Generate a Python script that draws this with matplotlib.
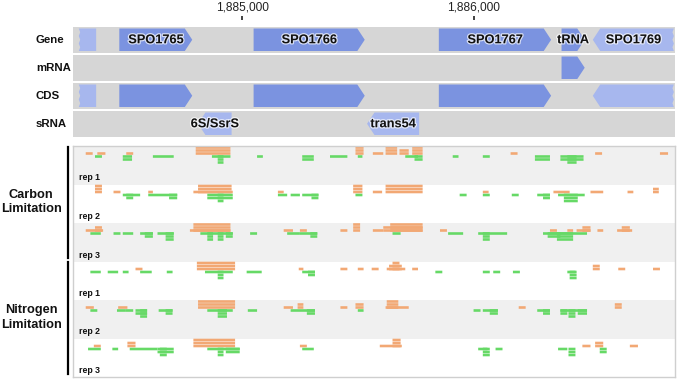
import matplotlib
matplotlib.use("Agg")
import matplotlib.pyplot as plt
from matplotlib.patches import Polygon, Rectangle
import matplotlib.patheffects as pe

plt.rcParams['font.family'] = ['Liberation Sans', 'DejaVu Sans']

# ---------------- data ----------------
view_start, view_end = 1884270, 1886870
tick_positions = [1885000, 1886000]
tick_labels = ["1,885,000", "1,886,000"]

track_names = ["Gene", "mRNA", "CDS", "sRNA"]

gene_names = ["", "SPO1765", "SPO1766", "SPO1767", "tRNA", "SPO1769"]
gene_starts = [1884295, 1884470, 1885050, 1885850, 1886380, 1886515]
gene_ends = [1884370, 1884785, 1885530, 1886335, 1886480, 1886865]
gene_strands = [-1, 1, 1, 1, 1, -1]
gene_trunc = ["left", "", "", "", "", "right"]

mrna_starts = [1886380]
mrna_ends = [1886480]
mrna_strands = [1]

cds_starts = [1884295, 1884470, 1885050, 1885850, 1886515]
cds_ends = [1884370, 1884785, 1885530, 1886335, 1886865]
cds_strands = [-1, 1, 1, 1, -1]
cds_trunc = ["left", "", "", "", "right"]

srna_names = ["6S/SsrS", "trans54"]
srna_starts = [1884810, 1885540]
srna_ends = [1884955, 1885765]
srna_strands = [-1, -1]

sample_groups = ["Carbon\nLimitation", "Nitrogen\nLimitation"]
rep_labels = ["rep 1", "rep 2", "rep 3", "rep 1", "rep 2", "rep 3"]

# reads: (start, end, stacked depth)
carbon_rep1_plus = [(1884325, 1884355, 1), (1884375, 1884410, 1), (1884500, 1884530, 1),
                    (1884800, 1884950, 3), (1885490, 1885525, 3), (1885565, 1885610, 1),
                    (1885620, 1885670, 3), (1885680, 1885720, 2), (1885735, 1885780, 3),
                    (1886160, 1886190, 1), (1886525, 1886555, 1), (1886805, 1886840, 1)]
carbon_rep1_minus = [(1884365, 1884395, 1), (1884485, 1884525, 2), (1884615, 1884705, 1),
                     (1884870, 1884950, 1), (1884895, 1884920, 3), (1885065, 1885090, 1),
                     (1885260, 1885310, 2), (1885380, 1885455, 1), (1885500, 1885520, 1),
                     (1885705, 1885760, 1), (1885745, 1885780, 2), (1885910, 1885935, 1),
                     (1886040, 1886070, 1), (1886265, 1886330, 2), (1886375, 1886475, 2),
                     (1886405, 1886445, 3)]
carbon_rep2_plus = [(1884365, 1884395, 3), (1884445, 1884475, 1), (1884595, 1884615, 1),
                    (1884790, 1884960, 1), (1884810, 1884955, 3), (1885155, 1885180, 1),
                    (1885480, 1885520, 3), (1885565, 1885605, 1), (1885620, 1885780, 3),
                    (1886040, 1886065, 1), (1886345, 1886415, 1), (1886505, 1886560, 1),
                    (1886665, 1886690, 1), (1886775, 1886800, 2)]
carbon_rep2_minus = [(1884485, 1884560, 1), (1884500, 1884530, 2), (1884595, 1884720, 1),
                     (1884685, 1884720, 2), (1884850, 1884960, 2), (1884895, 1884920, 3),
                     (1885155, 1885195, 1), (1885210, 1885250, 1), (1885260, 1885330, 1),
                     (1885300, 1885330, 2), (1885490, 1885520, 1), (1885940, 1885970, 1),
                     (1886040, 1886070, 1), (1886165, 1886195, 1), (1886275, 1886330, 1),
                     (1886300, 1886330, 2), (1886365, 1886480, 1), (1886390, 1886450, 3)]
carbon_rep3_plus = [(1884325, 1884400, 1), (1884365, 1884395, 2), (1884775, 1884950, 1),
                    (1884790, 1884950, 3), (1885180, 1885220, 1), (1885250, 1885280, 1),
                    (1885425, 1885455, 1), (1885480, 1885510, 3), (1885565, 1885610, 1),
                    (1885610, 1885780, 2), (1885640, 1885780, 3), (1885855, 1885885, 1),
                    (1886330, 1886360, 1), (1886405, 1886430, 1), (1886445, 1886505, 1),
                    (1886470, 1886505, 2), (1886535, 1886560, 1), (1886620, 1886685, 1),
                    (1886640, 1886675, 2)]
carbon_rep3_minus = [(1884345, 1884390, 1), (1884445, 1884475, 1), (1884485, 1884530, 1),
                     (1884560, 1884615, 1), (1884580, 1884615, 2), (1884635, 1884705, 1),
                     (1884670, 1884705, 3), (1884820, 1884960, 1), (1884850, 1884875, 3),
                     (1884895, 1884920, 3), (1884930, 1884960, 2), (1885035, 1885065, 1),
                     (1885195, 1885250, 1), (1885250, 1885325, 1), (1885295, 1885325, 2),
                     (1885650, 1885685, 1), (1885890, 1885955, 1), (1886020, 1886145, 1),
                     (1886040, 1886070, 3), (1886300, 1886490, 1), (1886320, 1886375, 2),
                     (1886360, 1886430, 3)]
nitrogen_rep1_plus = [(1884540, 1884570, 1), (1884805, 1884970, 3), (1885245, 1885265, 1),
                      (1885425, 1885455, 1), (1885500, 1885525, 1), (1885560, 1885590, 1),
                      (1885625, 1885705, 1), (1885635, 1885690, 2), (1885650, 1885680, 3),
                      (1885735, 1885760, 1), (1886515, 1886545, 2), (1886625, 1886655, 1),
                      (1886775, 1886805, 1)]
nitrogen_rep1_minus = [(1884345, 1884390, 1), (1884420, 1884465, 1), (1884485, 1884510, 1),
                       (1884560, 1884610, 1), (1884675, 1884700, 1), (1884840, 1884960, 1),
                       (1884895, 1884920, 3), (1885020, 1885085, 1), (1885260, 1885315, 1),
                       (1885285, 1885315, 2), (1885835, 1885865, 1), (1886040, 1886070, 1),
                       (1886085, 1886115, 1), (1886170, 1886200, 1), (1886405, 1886440, 1),
                       (1886415, 1886445, 3)]
nitrogen_rep2_plus = [(1884325, 1884360, 1), (1884465, 1884505, 1), (1884810, 1884970, 3),
                      (1885180, 1885220, 1), (1885240, 1885265, 2), (1885425, 1885455, 1),
                      (1885490, 1885525, 2), (1885620, 1885720, 1), (1885625, 1885675, 3),
                      (1886195, 1886225, 1), (1886610, 1886640, 2)]
nitrogen_rep2_minus = [(1884345, 1884375, 1), (1884460, 1884495, 1), (1884495, 1884530, 1),
                       (1884540, 1884590, 2), (1884560, 1884590, 3), (1884640, 1884700, 1),
                       (1884670, 1884700, 2), (1884850, 1884960, 1), (1884895, 1884935, 3),
                       (1885025, 1885065, 1), (1885210, 1885315, 1), (1885280, 1885315, 2),
                       (1885500, 1885525, 1), (1886000, 1886030, 1), (1886040, 1886105, 1),
                       (1886070, 1886105, 2), (1886275, 1886330, 1), (1886300, 1886330, 2),
                       (1886375, 1886490, 1), (1886375, 1886405, 2), (1886410, 1886440, 3),
                       (1886450, 1886490, 2)]
nitrogen_rep3_plus = [(1884360, 1884390, 1), (1884505, 1884540, 2), (1884790, 1884970, 3),
                      (1885250, 1885280, 1), (1885595, 1885690, 1), (1885650, 1885685, 3),
                      (1886470, 1886505, 1), (1886525, 1886560, 2), (1886675, 1886710, 1)]
nitrogen_rep3_minus = [(1884335, 1884390, 1), (1884440, 1884465, 1), (1884515, 1884635, 1),
                       (1884635, 1884705, 2), (1884645, 1884675, 3), (1884850, 1884990, 1),
                       (1884895, 1884920, 3), (1884930, 1884990, 2), (1885260, 1885310, 1),
                       (1886020, 1886060, 1), (1886040, 1886070, 3), (1886095, 1886125, 1),
                       (1886365, 1886405, 1), (1886410, 1886440, 3), (1886545, 1886575, 2)]

plus_tracks = [carbon_rep1_plus, carbon_rep2_plus, carbon_rep3_plus,
               nitrogen_rep1_plus, nitrogen_rep2_plus, nitrogen_rep3_plus]
minus_tracks = [carbon_rep1_minus, carbon_rep2_minus, carbon_rep3_minus,
                nitrogen_rep1_minus, nitrogen_rep2_minus, nitrogen_rep3_minus]

# ---------------- style ----------------
W, H = 680, 379
FWD = "#7b93e0"
REV = "#a7b7ee"
TRACK_BG = "#d6d6d6"
ORANGE = "#f2a874"
GREEN = "#66d966"
HEAD = 32  # bp arrow head length

fig = plt.figure(figsize=(W / 100, H / 100), dpi=100)


def fx(px):
    return px / W


def fy(py):
    return 1 - py / H


# ---- top feature panel (y in pixel units) ----
ax1 = fig.add_axes([fx(73), fy(137), fx(675) - fx(73), fy(20) - fy(137)])
ax1.set_xlim(view_start, view_end)
ax1.set_ylim(137, 20)
for s in ax1.spines.values():
    s.set_visible(False)
ax1.set_yticks([])
ax1.xaxis.tick_top()
ax1.set_xticks(tick_positions)
ax1.set_xticklabels(tick_labels)
ax1.tick_params(axis='x', direction='out', length=3.2, width=1.3, color='#333333',
                pad=1.2, labelsize=8.6, labelcolor='#222222')

track_top0 = 27
track_pitch = 28.0
track_h = 25.5
inset = 1.5
jag_bp = 6


def feature_poly(start, end, strand, top, bottom, trunc=""):
    mid = (top + bottom) / 2
    if strand > 0:
        be = end - HEAD
        pts = [(start, top), (be, top), (end, mid), (be, bottom), (start, bottom)]
    else:
        bs = start + HEAD
        if trunc == "right":
            n = 7
            right = [(end - (jag_bp if i % 2 else 0), top + (bottom - top) * i / (n - 1)) for i in range(n)]
            pts = [(bs, top)] + right + [(bs, bottom), (start, mid)]
        elif trunc == "left":
            n = 7
            left = [(start + (jag_bp if i % 2 else 0), bottom - (bottom - top) * i / (n - 1)) for i in range(n)]
            pts = [(end, top), (end, bottom)] + left
        else:
            pts = [(bs, top), (end, top), (end, bottom), (bs, bottom), (start, mid)]
    return pts


label_fx = [pe.withStroke(linewidth=1.8, foreground="white", alpha=0.7)]

for i, name in enumerate(track_names):
    top = track_top0 + i * track_pitch
    ax1.add_patch(Rectangle((view_start, top), view_end - view_start, track_h,
                            facecolor=TRACK_BG, edgecolor='none'))
    fig.text(fx(36), fy(top + track_h / 2), name, ha='left', va='center',
             fontsize=8.2, fontweight='bold', color='#111111')


def draw_features(starts, ends, strands, row, names=None, truncs=None):
    top = track_top0 + row * track_pitch + inset
    bottom = track_top0 + row * track_pitch + track_h - inset
    for k in range(len(starts)):
        tr = truncs[k] if truncs else ""
        pts = feature_poly(starts[k], ends[k], strands[k], top, bottom, tr)
        ax1.add_patch(Polygon(pts, closed=True, facecolor=FWD if strands[k] > 0 else REV,
                              edgecolor='none'))
    if names:
        for k in range(len(starts)):
            if names[k]:
                ax1.text((starts[k] + ends[k]) / 2, (top + bottom) / 2 + 0.5, names[k],
                         ha='center', va='center', fontsize=9.2, fontweight='bold',
                         color='#111111', path_effects=label_fx)


draw_features(gene_starts, gene_ends, gene_strands, 0, gene_names, gene_trunc)
draw_features(mrna_starts, mrna_ends, mrna_strands, 1)
draw_features(cds_starts, cds_ends, cds_strands, 2, None, cds_trunc)
draw_features(srna_starts, srna_ends, srna_strands, 3, srna_names)

# ---- lower reads panel ----
ax2 = fig.add_axes([fx(73), fy(377), fx(675) - fx(73), fy(146) - fy(377)])
ax2.set_xlim(view_start, view_end)
ax2.set_ylim(377, 146)
ax2.set_xticks([])
ax2.set_yticks([])
for s in ax2.spines.values():
    s.set_color('#cfcfcf')
    s.set_linewidth(1.0)

lane_top0 = 146
lane_h = 38.5
row_h = 3.0
read_h = 2.6
base_off = 9.0

for i in range(6):
    top = lane_top0 + i * lane_h
    ax2.add_patch(Rectangle((view_start, top), view_end - view_start, lane_h,
                            facecolor='#f0f0f0' if i % 2 == 0 else 'white', edgecolor='none'))
    base = top + base_off
    xs, ws, bs = [], [], []
    for (s, e, d) in plus_tracks[i]:
        for r in range(d):
            xs.append(s)
            ws.append(e - s)
            bs.append(base - (r + 1) * row_h + (row_h - read_h) / 2)
    bars = ax2.bar(x=xs, height=read_h, width=ws, bottom=bs, align='edge', color=ORANGE,
                   linewidth=0)
    for b in bars:
        b.set_snap(False)
    xs, ws, bs = [], [], []
    for (s, e, d) in minus_tracks[i]:
        for r in range(d):
            xs.append(s)
            ws.append(e - s)
            bs.append(base + r * row_h + (row_h - read_h) / 2)
    bars = ax2.bar(x=xs, height=read_h, width=ws, bottom=bs, align='edge', color=GREEN,
                   linewidth=0)
    for b in bars:
        b.set_snap(False)
    ax2.text(view_start + 25, top + lane_h - 6.5, rep_labels[i], ha='left', va='center',
             fontsize=6.3, fontweight='bold', color='#111111')

# group labels and bars
group_spans = [(147, 258), (262, 374)]
for g, (y0, y1) in enumerate(group_spans):
    fig.add_artist(plt.Line2D([fx(68.3), fx(68.3)], [fy(y0), fy(y1)], color='black',
                              linewidth=1.6, transform=fig.transFigure))
    fig.text(fx(31), fy((y0 + y1) / 2 - 0.5), sample_groups[g], ha='center', va='center',
             fontsize=9.2, fontweight='bold', color='#111111', linespacing=1.25)

fig.savefig("out.png", dpi=100)
